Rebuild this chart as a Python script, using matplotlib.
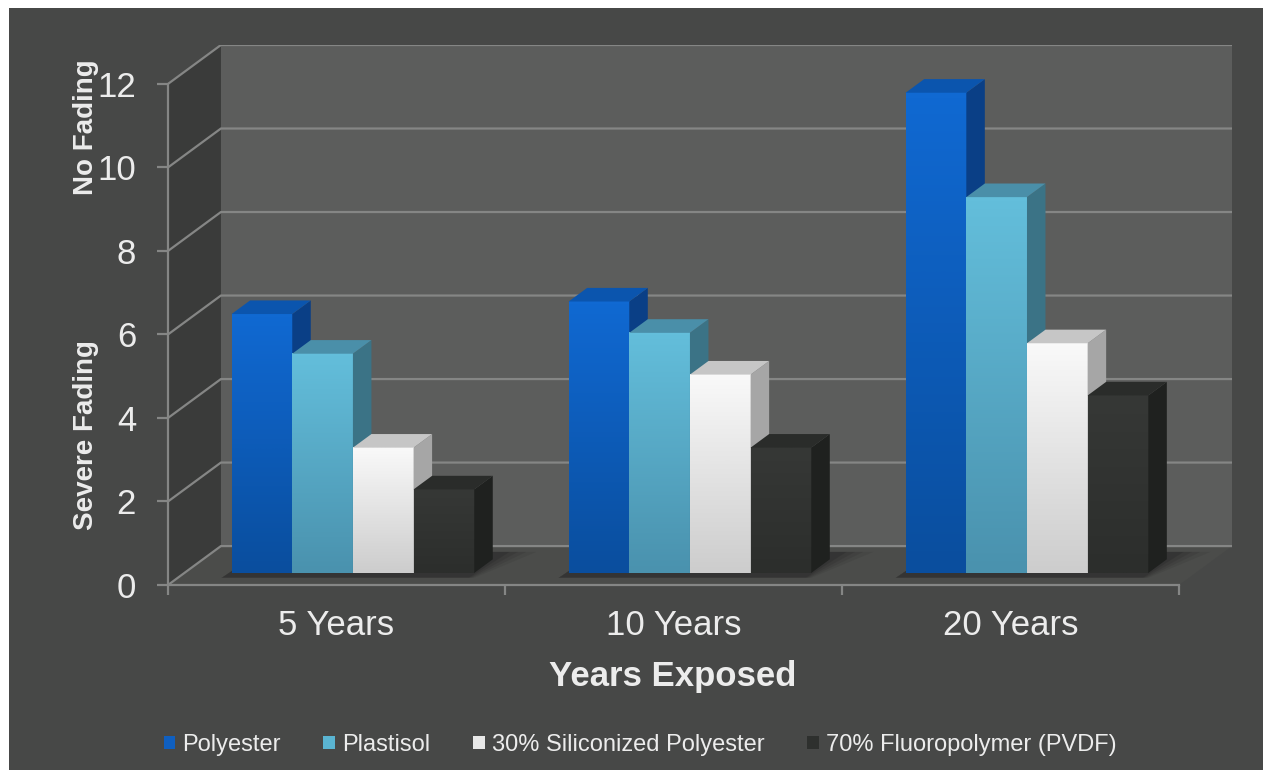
import numpy as np
import matplotlib
matplotlib.use("Agg")
import matplotlib.pyplot as plt
from matplotlib.patches import Polygon, Rectangle, Patch
from matplotlib.colors import LinearSegmentedColormap

# ---------------- data ----------------
categories = ["5 Years", "10 Years", "20 Years"]
series_names = ["Polyester", "Plastisol", "30% Siliconized Polyester", "70% Fluoropolymer (PVDF)"]
polyester = [6.2, 6.5, 11.5]
plastisol = [5.25, 5.75, 9.0]
siliconized = [3.0, 4.75, 5.5]
pvdf = [2.0, 3.0, 4.25]
y_ticks = [0, 2, 4, 6, 8, 10, 12]
x_title = "Years Exposed"
y_top_label = "No Fading"
y_bottom_label = "Severe Fading"

series_values = [polyester, plastisol, siliconized, pvdf]

# ---------------- style ----------------
plt.rcParams['font.family'] = ['Liberation Sans', 'DejaVu Sans']
TXT = '#ececec'
GRID = '#858685'
BG = '#474847'

# face colours: (front top, front bottom, side, top)
styles = [
    ('#1069d2', '#0a4e9e', '#0a3f86', '#0b55ae'),
    ('#63bedb', '#4a92ae', '#3b7386', '#4a8fa9'),
    ('#f9f9f9', '#cdcdcd', '#a6a6a6', '#c6c6c6'),
    ('#363836', '#2c2e2c', '#1f211f', '#2a2c2a'),
]
legend_colors = ['#0f5fc0', '#5ab4d2', '#e8e8e8', '#2e302e']

W, H = 1263, 770
fig = plt.figure(figsize=(W / 100, H / 100), dpi=100, facecolor='white')
fig.add_artist(Rectangle((9 / W, 0), 1, (H - 8) / H, transform=fig.transFigure,
                         facecolor=BG, edgecolor='none', zorder=-10))

ax = fig.add_axes([168 / W, (H - 585) / H, (1232 - 168) / W, (585 - 45) / H])
ax.patch.set_visible(False)

ncat = len(categories)
ymax = max(y_ticks)
DX, DY = 0.157, 0.932          # full depth offset (data units)
F0, F1 = 0.31, 0.66            # bar depth band (fraction of full depth)
BW = 0.18                      # bar width
G0 = 0.5 - BW * len(series_values) / 2

# walls
ax.add_patch(Polygon([(DX, DY), (ncat + DX, DY), (ncat + DX, ymax + DY), (DX, ymax + DY)],
                     closed=True, facecolor='#5c5d5c', edgecolor='none', zorder=1))
ax.add_patch(Polygon([(0, 0), (DX, DY), (DX, ymax + DY), (0, ymax)],
                     closed=True, facecolor='#3a3b3a', edgecolor='none', zorder=1))
ax.add_patch(Polygon([(0, 0), (ncat, 0), (ncat + DX, DY), (DX, DY)],
                     closed=True, facecolor='#4b4c4a', edgecolor='none', zorder=1))

# gridlines (back wall + left wall)
for t in y_ticks:
    ax.plot([0, DX, ncat + DX], [t, t + DY, t + DY], color=GRID, lw=1.6,
            zorder=2, solid_capstyle='butt')

# soft floor shadows under each group
for c in range(ncat):
    gx0 = c + G0
    gx1 = gx0 + BW * len(series_values)
    for ext, a in [(0.10, 0.06), (0.07, 0.07), (0.045, 0.08), (0.02, 0.10)]:
        ax.add_patch(Polygon([
            (gx0 + F0 * DX * 0.6 - 0.01, F0 * DY * 0.6),
            (gx1 + F0 * DX * 0.6 + ext * 0.2, F0 * DY * 0.6),
            (gx1 + DX * 0.85 + ext, DY * 0.85),
            (gx0 + DX * 0.85, DY * 0.85)],
            closed=True, facecolor='black', alpha=a, edgecolor='none', zorder=3))

# bars
z = 10
dxb = (F1 - F0) * DX
dyb = (F1 - F0) * DY
for c in range(ncat):
    for s, vals in enumerate(series_values):
        v = vals[c]
        ftop, fbot, side, top = styles[s]
        xl = c + G0 + s * BW + F0 * DX
        xr = xl + BW
        yb = F0 * DY
        yt = yb + v
        cmap = LinearSegmentedColormap.from_list('g', [fbot, ftop])
        grad = np.linspace(0, 1, 64).reshape(-1, 1)
        ax.imshow(grad, extent=[xl, xr, yb, yt], origin='lower', cmap=cmap,
                  aspect='auto', interpolation='bilinear', zorder=z)
        ax.add_patch(Polygon([(xr, yb), (xr + dxb, yb + dyb), (xr + dxb, yt + dyb), (xr, yt)],
                             closed=True, facecolor=side, edgecolor='none', zorder=z))
        ax.add_patch(Polygon([(xl, yt), (xr, yt), (xr + dxb, yt + dyb), (xl + dxb, yt + dyb)],
                             closed=True, facecolor=top, edgecolor='none', zorder=z))
        z += 1

ax.set_xlim(0, ncat + DX)
ax.set_ylim(0, ymax + DY)

# axes / ticks
for sp in ['top', 'right']:
    ax.spines[sp].set_visible(False)
ax.spines['left'].set_bounds(0, ymax)
ax.spines['bottom'].set_bounds(0, ncat)
for sp in ['left', 'bottom']:
    ax.spines[sp].set_color(GRID)
    ax.spines[sp].set_linewidth(1.6)
    ax.spines[sp].set_zorder(100)

ax.set_yticks(y_ticks)
ax.set_yticklabels([str(t) for t in y_ticks])
ax.tick_params(axis='y', colors=GRID, labelcolor=TXT, labelsize=25, length=8,
               width=1.6, pad=15, direction='out')
ax.set_xticks(np.arange(ncat + 1))
ax.set_xticklabels([])
ax.set_xticks(np.arange(ncat) + 0.5, minor=True)
ax.set_xticklabels(categories, minor=True)
ax.tick_params(axis='x', which='major', colors=GRID, length=7, width=1.6, direction='out')
ax.tick_params(axis='x', which='minor', length=0, labelcolor=TXT, labelsize=25, pad=17)

# titles
fig.text(86 / W, 1 - 127 / H, y_top_label, rotation=90, ha='center', va='center',
         fontsize=20, fontweight='bold', color=TXT)
fig.text(86 / W, 1 - 435 / H, y_bottom_label, rotation=90, ha='center', va='center',
         fontsize=20, fontweight='bold', color=TXT)
fig.text(673 / W, 1 - 686 / H, x_title, ha='center', va='baseline',
         fontsize=25, fontweight='bold', color=TXT)

# legend
handles = [Patch(facecolor=col, edgecolor='none', label=name)
           for col, name in zip(legend_colors, series_names)]
fig.legend(handles=handles, loc='center', bbox_to_anchor=(640 / W, 1 - 745 / H), ncol=4,
           frameon=False, fontsize=17, labelcolor=TXT, handlelength=0.5,
           handleheight=0.5, handletextpad=0.3, columnspacing=1.8)

fig.savefig('out.png', dpi=100, facecolor=fig.get_facecolor())
